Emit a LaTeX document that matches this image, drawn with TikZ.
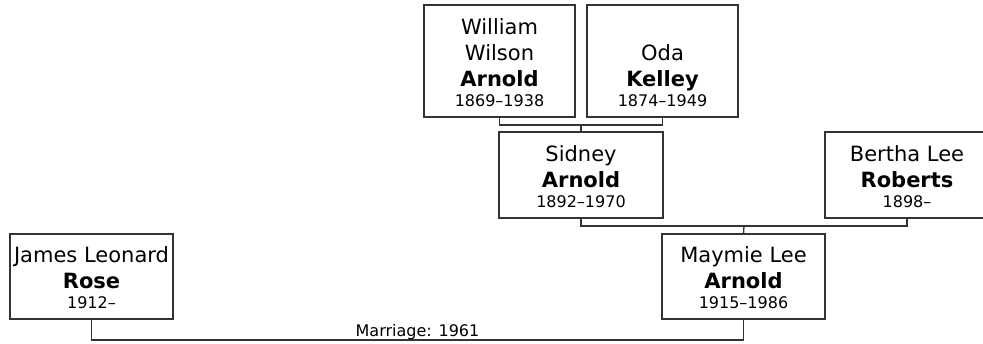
\documentclass[tikz,border=0pt]{standalone}
\usepackage{fontspec}
\setmainfont{DejaVu Sans}
\begin{document}
\begin{tikzpicture}[x=1pt,y=-1pt,
  person/.style={draw=linegray,line width=1.3pt,inner sep=0pt,outer sep=0pt,fill=white},
  ptext/.style={align=center,inner sep=0pt,outer sep=0pt,anchor=south,font=\fontsize{21}{26}\selectfont},
  conn/.style={draw=linegray,line width=1.3pt},
  mtext/.style={inner sep=0pt,anchor=base,font=\fontsize{16}{20}\selectfont}]
\definecolor{linegray}{HTML}{333333}
\useasboundingbox (0,0) rectangle (983,343);
\newcommand{\yrs}[1]{\\[-6pt]{\fontsize{16}{20}\selectfont #1}}
% boxes
\node[person,minimum width=151pt,minimum height=112pt] (will) at (499.5,61) {};
\node[person,minimum width=151pt,minimum height=112pt] (oda) at (662.5,61) {};
\node[person,minimum width=164pt,minimum height=86pt] (sid) at (581,175) {};
\node[person,minimum width=164pt,minimum height=86pt] (ber) at (907,175) {};
\node[person,minimum width=163pt,minimum height=85pt] (jam) at (91.5,276.5) {};
\node[person,minimum width=163pt,minimum height=85pt] (may) at (743.5,276.5) {};
% texts
\node[ptext] (willt) at ([yshift=10pt]will.south) {William\\Wilson\\\textbf{Arnold}\yrs{1869–1938}};
\node[ptext] (odat) at ([yshift=10pt]oda.south) {Oda\\\textbf{Kelley}\yrs{1874–1949}};
\node[ptext] (sidt) at ([yshift=10pt]sid.south) {Sidney\\\textbf{Arnold}\yrs{1892–1970}};
\node[ptext] (bert) at ([yshift=10pt]ber.south) {Bertha Lee\\\textbf{Roberts}\yrs{1898–}};
\node[ptext] (jamt) at ([yshift=10pt]jam.south) {James Leonard\\\textbf{Rose}\yrs{1912–}};
\node[ptext] (mayt) at ([yshift=10pt]may.south) {Maymie Lee\\\textbf{Arnold}\yrs{1915–1986}};
% junctions
\coordinate (j1) at (581,125);
\coordinate (j2) at (744,226);
\draw[conn] (will.south) |- (j1) -| (oda.south);
\draw[conn] (j1) -- (sid.north);
\draw[conn] (sid.south) |- (j2) -| (ber.south);
\draw[conn] (j2) -- (may.north);
\coordinate (m1) at (91.5,340);
\draw[conn] (jam.south) -- (m1) -| (may.south);
\node[mtext] (mlabel) at (417.5,336.5) {Marriage: 1961};
\end{tikzpicture}
\end{document}
